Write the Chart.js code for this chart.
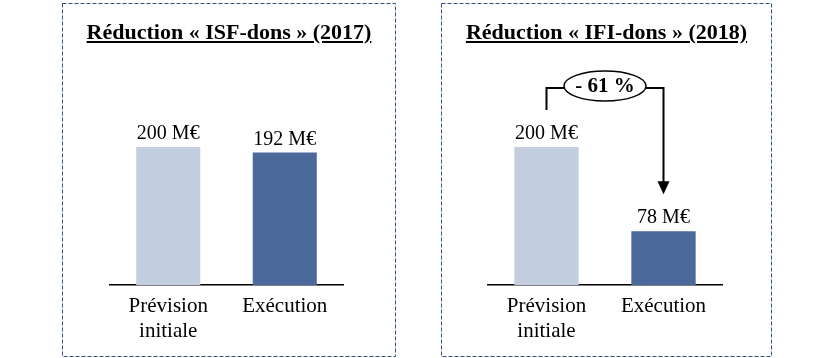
<!DOCTYPE html>
<html>
<head>
<meta charset="utf-8">
<script src="https://cdn.jsdelivr.net/npm/chart.js@4.4.0/dist/chart.umd.min.js"></script>
<style>
  body { margin: 0; background: #fff; width: 832px; height: 358px; position: relative; overflow: hidden; }
  .panel { position: absolute; top: 3px; height: 354px; }
  .panel canvas { position: absolute; left: 0; top: 0; }
  .title {
    position: absolute; top: 16px; left: 0; width: 100%; text-align: center;
    font: bold 22px "Liberation Serif", serif; text-decoration: underline; color: #000;
    z-index: 2;
  }
</style>
</head>
<body>
<div class="panel" id="p1" style="left:62px;width:334px;">
  <div class="title">Réduction « ISF-dons » (2017)</div>
  <canvas id="chartIsf" width="334" height="354"></canvas>
</div>
<div class="panel" id="p2" style="left:441px;width:331px;">
  <div class="title">Réduction « IFI-dons » (2018)</div>
  <canvas id="chartIfi" width="331" height="354"></canvas>
</div>
<script>
const categories = [["Prévision", "initiale"], "Exécution"];
const isfValues = [200, 192];
const ifiValues = [200, 78];
const unit = "M€";
const barColors = ["#C3CEE1", "#4B6A9B"];

const serif = '"Liberation Serif", serif';

// dashed frame around each panel
const dashedFrame = {
  id: "dashedFrame",
  beforeDraw(chart) {
    const ctx = chart.ctx;
    ctx.save();
    ctx.strokeStyle = "#2F5188";
    ctx.lineWidth = 1;
    ctx.setLineDash([4, 2]);
    ctx.strokeRect(0.5, 0.5, chart.width - 1, chart.height - 1);
    ctx.restore();
  },
};

// value labels above each bar
const valueLabels = {
  id: "valueLabels",
  afterDatasetsDraw(chart) {
    const ctx = chart.ctx;
    const meta = chart.getDatasetMeta(0);
    const values = chart.data.datasets[0].data;
    ctx.save();
    ctx.font = "20px " + serif;
    ctx.fillStyle = "#000";
    ctx.textAlign = "center";
    ctx.textBaseline = "bottom";
    meta.data.forEach((bar, i) => {
      ctx.fillText(values[i] + " " + unit, bar.x, bar.y - 3);
    });
    ctx.restore();
  },
};

// bracket + ellipse + arrow showing the change
const changeArrow = {
  id: "changeArrow",
  afterDatasetsDraw(chart) {
    const ctx = chart.ctx;
    const meta = chart.getDatasetMeta(0);
    const values = chart.data.datasets[0].data;
    const b0 = meta.data[0];
    const b1 = meta.data[1];
    const lineY = chart.chartArea.top - 24.5;
    const y0 = b0.y - 37;
    const y1 = b1.y - 37;
    const cx = (b0.x + b1.x) / 2;
    const cy = lineY - 2;
    const rx = 41, ry = 15;
    const pct = Math.round(((values[1] - values[0]) / values[0]) * 100);

    ctx.save();
    ctx.strokeStyle = "#000";
    ctx.lineWidth = 2;
    ctx.beginPath();
    ctx.moveTo(b0.x, y0);
    ctx.lineTo(b0.x, lineY);
    ctx.lineTo(cx - rx, lineY);
    ctx.moveTo(cx + rx, lineY);
    ctx.lineTo(b1.x, lineY);
    ctx.lineTo(b1.x, y1 - 12);
    ctx.stroke();

    ctx.fillStyle = "#000";
    ctx.beginPath();
    ctx.moveTo(b1.x - 6, y1 - 13);
    ctx.lineTo(b1.x + 6, y1 - 13);
    ctx.lineTo(b1.x, y1);
    ctx.closePath();
    ctx.fill();

    ctx.beginPath();
    ctx.ellipse(cx, cy, rx, ry, 0, 0, Math.PI * 2);
    ctx.fillStyle = "#fff";
    ctx.fill();
    ctx.lineWidth = 1.5;
    ctx.stroke();

    ctx.fillStyle = "#000";
    ctx.font = "bold 21px " + serif;
    ctx.textAlign = "center";
    ctx.textBaseline = "middle";
    ctx.fillText("- " + Math.abs(pct) + " %", cx, cy + 1);
    ctx.restore();
  },
};

const makeChart = (canvasId, values, padLeft, padRight, extraPlugins) => {
  const ctx = document.getElementById(canvasId).getContext("2d");
  return new Chart(ctx, {
    type: "bar",
    data: {
      labels: categories,
      datasets: [
        {
          data: values,
          backgroundColor: barColors,
          borderWidth: 0,
          barPercentage: 0.55,
          categoryPercentage: 1,
        },
      ],
    },
    options: {
      responsive: false,
      animation: false,
      layout: { padding: { left: padLeft, right: padRight, top: 109.5, bottom: 0 } },
      plugins: {
        legend: { display: false },
        tooltip: { enabled: false },
        title: { display: false },
      },
      scales: {
        y: { display: false, min: 0, max: 250 },
        x: {
          grid: { display: false, drawTicks: false },
          border: { display: true, color: "#000", width: 1.5 },
          ticks: {
            color: "#000",
            padding: 9,
            font: { family: serif, size: 21, lineHeight: 1.2 },
          },
          afterFit: (scale) => {
            scale.height = 72;
          },
        },
      },
    },
    plugins: [dashedFrame, valueLabels].concat(extraPlugins),
  });
};

makeChart("chartIsf", isfValues, 48, 53, []);
makeChart("chartIfi", ifiValues, 47, 50, [changeArrow]);
</script>
</body>
</html>
